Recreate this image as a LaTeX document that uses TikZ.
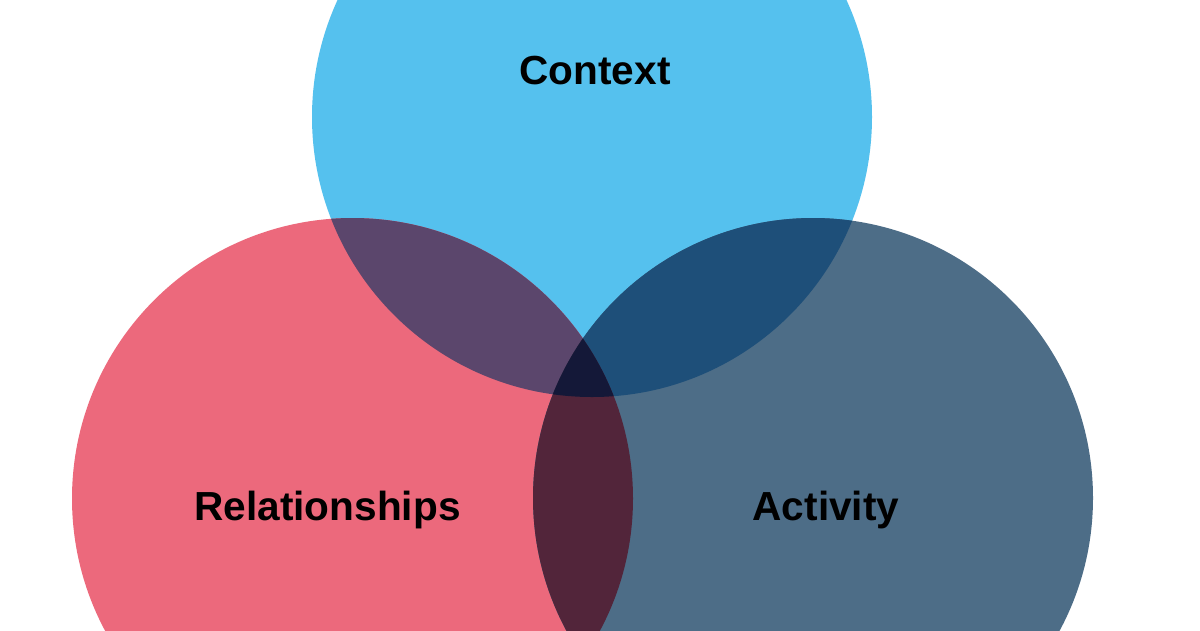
\documentclass[tikz,border=0pt]{standalone}
\usepackage{fontspec}
\setmainfont{Liberation Sans}
\definecolor{ctxc}{HTML}{55C1EE}
\definecolor{relc}{HTML}{EC697C}
\definecolor{actc}{HTML}{4D6D87}
\definecolor{relctxc}{HTML}{5B466C}
\definecolor{ctxactc}{HTML}{1E4F79}
\definecolor{relactc}{HTML}{52253A}
\definecolor{allc}{HTML}{141838}
\begin{document}
\begin{tikzpicture}[x=1pt,y=-1pt,
  lbl/.style={font=\fontsize{40.6}{40.6}\selectfont\bfseries, text=black, inner sep=0pt, anchor=base}]
\useasboundingbox (0,0) rectangle (1200,630);
\clip (0,0) rectangle (1200,630);
\fill[white] (0,0) rectangle (1200,630);
\def\ctxcirc{(592,117) circle (280pt)}
\def\relcirc{(352.5,498.5) circle (280.5pt)}
\def\actcirc{(813,498) circle (280pt)}
\fill[ctxc] \ctxcirc;
\fill[relc] \relcirc;
\fill[actc] \actcirc;
\begin{scope}
  \clip \ctxcirc;
  \fill[relctxc] \relcirc;
  \fill[ctxactc] \actcirc;
\end{scope}
\begin{scope}
  \clip \relcirc;
  \fill[relactc] \actcirc;
  \clip \actcirc;
  \fill[allc] \ctxcirc;
\end{scope}
\node[lbl] (context) at (595,84) {Context};
\node[lbl] (relationships) at (327.5,520) {Relationships};
\node[lbl] (activity) at (826,520) {Activity};
\end{tikzpicture}
\end{document}
